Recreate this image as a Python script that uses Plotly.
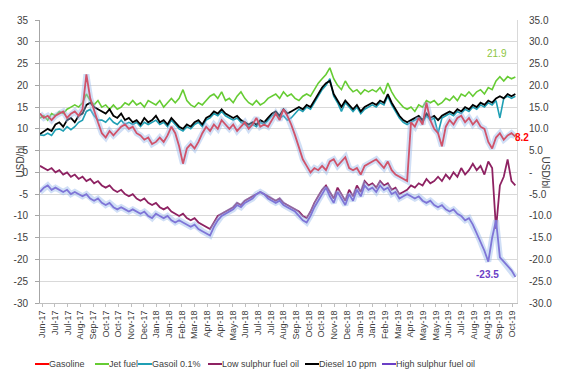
import pandas as pd
import plotly.graph_objects as go

# ---------------- data (weekly readings, USD/bl) ----------------
dates = pd.date_range("2017-06-06", periods=124, freq="7D")

gasoline = [13.5, 12.5, 13.0, 12.0, 13.0, 13.5, 14.0, 12.5, 13.5, 14.0,
            13.0, 14.5, 22.5, 17.0, 14.0, 11.5, 9.0, 8.0, 9.5, 8.5,
            9.5, 10.5, 11.0, 10.0, 10.5, 9.0, 8.5, 7.5, 8.0, 6.5,
            7.0, 8.0, 7.0, 8.5, 10.5, 9.0, 6.0, 2.0, 5.5, 6.5,
            5.5, 7.0, 9.0, 10.5, 9.5, 11.0, 10.0, 12.0, 11.0, 10.0,
            11.0, 9.5, 10.5, 11.5, 10.0, 11.0, 12.5, 10.5, 11.0, 10.5,
            12.0, 13.5, 12.0, 14.5, 13.0, 11.0, 8.5, 6.0, 3.0, 1.5,
            0.0, 1.0, 0.5, 1.5, 0.5, 2.5, 3.0, 1.5, 2.5, 3.5,
            1.0, 0.5, 1.0, -0.5, 1.5, 2.0, 2.5, 3.0, 2.0, 1.0,
            2.5, 0.5, -0.5, -1.0, -1.5, -2.0, 11.5, 10.5, 12.5, 11.0,
            16.0, 12.0, 10.0, 9.0, 6.0, 10.5, 12.0, 11.0, 12.5, 13.0,
            11.5, 12.5, 11.0, 12.0, 10.5, 10.0, 7.0, 5.5, 8.0, 9.0,
            7.5, 8.5, 9.0, 8.2]

jet_fuel = [12.5, 13.0, 12.0, 13.5, 13.0, 14.0, 13.5, 14.5, 15.0, 15.5,
            15.0, 16.0, 18.0, 16.5, 15.5, 16.5, 15.0, 15.5, 14.5, 15.5,
            14.5, 15.0, 16.0, 15.5, 16.5, 15.5, 16.0, 15.0, 16.5, 16.0,
            15.5, 16.5, 15.0, 16.0, 17.0, 16.0, 17.0, 19.0, 16.5, 15.5,
            15.0, 16.0, 15.5, 16.5, 17.5, 18.0, 17.0, 18.5, 16.5, 17.0,
            16.0, 17.5, 18.5, 17.0, 16.0, 15.5, 16.5, 15.5, 16.0, 17.0,
            17.5, 18.0, 17.0, 18.5, 17.5, 18.0, 17.0, 16.5, 17.5, 18.0,
            17.5, 19.0, 20.5, 21.5, 22.5, 24.0, 21.5, 20.0, 19.0, 21.0,
            19.5, 18.5, 19.0, 18.0, 19.0, 18.5, 19.0, 18.5, 19.5, 18.0,
            20.5, 18.5, 17.0, 16.0, 15.0, 14.5, 15.0, 14.0, 15.5, 15.0,
            16.5, 16.0, 16.5, 15.5, 16.0, 17.0, 16.5, 17.5, 16.5, 18.0,
            17.5, 18.5, 17.5, 18.5, 19.0, 18.0, 19.5, 19.0, 21.0, 22.0,
            21.0, 22.0, 21.5, 21.9]

gasoil = [8.6, 8.5, 9.0, 8.5, 9.8, 10.0, 9.5, 10.5, 9.8, 10.5,
          11.5, 12.0, 14.0, 14.5, 13.0, 12.0, 12.0, 11.5, 12.5, 11.5,
          11.0, 12.0, 11.0, 11.5, 11.0, 11.5, 10.5, 11.5, 11.0, 11.5,
          12.0, 11.0, 11.5, 10.5, 12.0, 11.0, 10.0, 9.5, 10.5, 10.0,
          11.0, 11.5, 10.5, 12.0, 12.5, 13.5, 13.0, 14.0, 13.0, 12.5,
          12.0, 12.5, 11.5, 11.0, 10.5, 11.0, 10.5, 11.5, 11.0, 12.0,
          13.0, 13.5, 12.5, 13.0, 12.0, 12.5, 13.5, 14.5, 14.0, 15.0,
          14.5, 16.0, 17.5, 19.0, 20.0, 21.5, 17.5, 16.0, 14.0, 16.0,
          15.0, 14.0, 15.0, 13.5, 14.5, 15.0, 15.5, 15.0, 16.0, 15.5,
          17.5, 15.5, 14.0, 12.5, 11.5, 11.0, 11.5, 12.0, 12.5, 11.5,
          13.0, 12.0, 12.5, 9.0, 12.5, 13.0, 13.5, 13.0, 14.0, 13.5,
          14.5, 14.0, 15.0, 14.5, 15.5, 15.0, 16.0, 15.5, 16.5, 12.5,
          17.0, 17.5, 17.0, 17.5]

lsfo = [1.5, 1.0, 0.5, 1.0, 0.0, 0.5, -0.5, 0.0, -1.0, -0.5,
        -1.5, -1.0, -2.0, -1.5, -2.5, -2.0, -3.0, -3.5, -3.0, -4.0,
        -4.5, -4.0, -5.0, -5.5, -5.0, -6.0, -6.5, -6.0, -7.0, -7.5,
        -7.0, -8.0, -8.5, -8.0, -9.0, -9.5, -10.0, -9.5, -10.5, -11.0,
        -10.5, -11.5, -12.0, -12.5, -13.0, -11.5, -10.0, -9.5, -9.0, -8.5,
        -8.0, -7.0, -7.5, -6.5, -6.0, -5.5, -5.0, -4.5, -5.0, -5.5,
        -6.0, -6.5, -6.0, -7.0, -7.5, -8.0, -8.5, -9.0, -10.0, -10.5,
        -9.0, -7.0, -5.5, -4.0, -3.0, -4.5, -6.0, -3.5, -5.0, -6.5,
        -4.0, -5.5, -3.0, -4.5, -2.0, -3.0, -2.5, -3.5, -2.0, -3.0,
        -2.5, -4.0, -3.5, -5.0, -4.5, -4.0, -3.0, -3.5, -2.5, -3.0,
        -1.5, -2.5, -2.0, -1.0, -2.0, -0.5, -1.5, 0.0, -1.0, 1.0,
        -0.5, 0.5, 2.0, 0.5, 1.5, -0.5, 2.5, 1.0, -13.0, -3.0,
        -1.0, 3.0, -2.0, -3.0]

diesel = [8.8, 9.5, 10.0, 9.5, 11.0, 11.5, 10.5, 12.0, 12.5, 11.5,
          13.0, 13.5, 15.5, 16.0, 15.0, 14.5, 14.0, 13.5, 14.5, 13.0,
          12.5, 13.5, 12.0, 12.5, 11.5, 12.0, 11.0, 12.5, 11.5, 12.0,
          13.0, 11.5, 12.0, 11.0, 12.5, 11.5, 10.5, 10.0, 11.0, 10.5,
          11.5, 12.0, 11.0, 12.5, 13.0, 14.0, 13.5, 14.5, 13.5, 13.0,
          12.5, 13.0, 12.0, 11.5, 11.0, 11.5, 11.0, 12.0, 11.5, 12.5,
          13.5, 14.0, 13.0, 14.5, 13.5, 14.0, 14.5, 15.0, 14.5, 15.5,
          15.0, 16.5, 18.0, 19.5, 20.5, 21.0, 18.0, 16.5, 15.0, 16.5,
          15.5, 14.5, 15.5, 14.0, 15.0, 15.5, 16.0, 15.5, 16.5, 16.0,
          18.0, 16.0, 14.5, 13.0, 12.0, 11.5, 12.0, 12.5, 13.0, 12.0,
          13.5, 12.5, 13.0, 12.0, 13.0, 13.5, 14.0, 13.5, 14.5, 14.0,
          15.0, 14.5, 15.5, 15.0, 16.0, 15.5, 16.5, 16.0, 17.0, 17.5,
          17.0, 18.0, 17.5, 18.0]

hsfo = [-4.5, -3.5, -3.0, -4.0, -3.5, -4.0, -4.5, -4.0, -5.0, -4.5,
        -5.0, -5.5, -5.0, -6.0, -6.5, -6.0, -7.0, -7.5, -7.0, -8.0,
        -8.5, -8.0, -8.5, -9.0, -8.5, -9.0, -9.5, -9.0, -10.0, -10.5,
        -9.5, -10.0, -10.5, -10.0, -11.0, -11.5, -11.0, -11.5, -12.0, -12.5,
        -12.0, -13.0, -13.5, -14.0, -14.5, -12.5, -11.0, -10.0, -9.5, -9.0,
        -8.5, -7.5, -8.0, -7.0, -6.5, -6.0, -5.0, -4.5, -5.0, -6.0,
        -6.5, -7.0, -6.5, -7.5, -8.0, -8.5, -9.0, -10.0, -11.0, -11.5,
        -10.0, -8.0, -6.5, -5.0, -3.5, -5.5, -7.0, -4.5, -6.0, -7.5,
        -5.0, -6.5, -4.0, -5.5, -3.0, -4.0, -3.5, -4.5, -3.0, -4.0,
        -3.5, -5.0, -4.5, -6.0, -5.5, -5.0, -5.5, -6.0, -5.5, -6.5,
        -7.0, -6.5, -7.5, -8.0, -7.5, -8.5, -9.0, -8.5, -9.5, -10.0,
        -11.0, -10.5, -12.0, -14.0, -16.0, -18.0, -20.5, -15.0, -11.0, -19.5,
        -20.5, -21.5, -22.5, -24.0]

tick_labels = ["Jun-17", "Jul-17", "Jul-17", "Aug-17", "Sep-17", "Oct-17", "Oct-17",
               "Nov-17", "Dec-17", "Jan-18", "Jan-18", "Feb-18", "Mar-18", "Apr-18",
               "Apr-18", "May-18", "Jun-18", "Jul-18", "Jul-18", "Aug-18", "Sep-18",
               "Oct-18", "Oct-18", "Nov-18", "Dec-18", "Jan-19", "Jan-19", "Feb-19",
               "Mar-19", "Apr-19", "May-19", "May-19", "Jun-19", "Jul-19", "Aug-19",
               "Aug-19", "Sep-19", "Oct-19"]
tick_dates = pd.date_range("2017-06-10", periods=len(tick_labels), freq="23D")

y_ticks = list(range(-30, 40, 5))
y_ticks_right = ["-" if v == 0 else f"{v:.1f}" for v in y_ticks]

series_names = ["Gasoline", "Jet fuel", "Gasoil 0.1%", "Low sulphur fuel oil",
                "Diesel 10 ppm", "High sulphur fuel oil"]
series_values = [gasoline, jet_fuel, gasoil, lsfo, diesel, hsfo]
series_colors = ["#FF0000", "#66CC33", "#1F9FB4", "#8E2262", "#000000", "#6B3FC6"]
series_widths = [1.8, 1.6, 1.6, 1.8, 1.8, 1.8]

# ---------------- figure ----------------
fig = go.Figure()
GLOW = "rgba(150,185,235,0.45)"

for idx in (5, 0):
    fig.add_trace(go.Scatter(x=dates, y=series_values[idx], mode="lines",
                             line=dict(color=GLOW, width=6), yaxis="y2",
                             hoverinfo="skip", showlegend=False))

draw_order = [3, 5, 1, 2, 4, 0]
for idx in draw_order:
    fig.add_trace(go.Scatter(x=dates, y=series_values[idx], mode="lines",
                             name=series_names[idx],
                             line=dict(color=series_colors[idx], width=series_widths[idx]),
                             showlegend=False))

FONT = "Liberation Sans, Arial, sans-serif"
TXT = "#404040"
OFF = 8                      # page body margin offset
W, H = 580, 386
PL, PT, PW, PH = 40, 20, 477, 283   # target plot box on screen
L, T = PL - OFF, PT - OFF
R, B = W - L - PW, H - T - PH

def sx(px):
    return (px - PL) / PW

def sy(py):
    return (PT + PH - py) / PH

annotations = []
shapes = []

annotations.append(dict(x=sx(509), xref="paper", y=27.2, yref="y",
                        text="21.9", showarrow=False, font=dict(size=10, color="#8DC63F", family=FONT)))
annotations.append(dict(x=sx(531), xref="paper", y=8.1, yref="y",
                        text="<b>8.2</b>", showarrow=False, font=dict(size=10, color="#FF0000", family=FONT)))
annotations.append(dict(x=sx(501), xref="paper", y=-23.5, yref="y",
                        text="<b>-23.5</b>", showarrow=False, font=dict(size=10, color="#6B3FC6", family=FONT)))

annotations.append(dict(x=sx(12), xref="paper", y=sy(162), yref="paper",
                        text="USD/bl", textangle=-90, showarrow=False,
                        font=dict(size=10, color=TXT, family=FONT)))
annotations.append(dict(x=sx(553), xref="paper", y=sy(172), yref="paper",
                        text="USD/bl", textangle=90, showarrow=False,
                        font=dict(size=10, color=TXT, family=FONT)))

legend_px = [35, 95, 138, 208, 305, 382]
ly = sy(364)
for name, color, px in zip(series_names, series_colors, legend_px):
    shapes.append(dict(type="line", xref="paper", yref="paper",
                       x0=sx(px), x1=sx(px + 14), y0=ly, y1=ly,
                       line=dict(color=color, width=2)))
    annotations.append(dict(x=sx(px + 13), xref="paper", y=ly, yref="paper",
                            xanchor="left", yanchor="middle", text=name, showarrow=False,
                            borderpad=0, font=dict(size=9, color=TXT, family=FONT)))

fig.update_layout(
    width=W, height=H,
    margin=dict(l=L, r=R, t=T, b=B, autoexpand=False),
    paper_bgcolor="white", plot_bgcolor="white",
    showlegend=False,
    font=dict(family=FONT, size=10, color=TXT),
    xaxis=dict(type="date", range=["2017-06-06", "2019-10-18"],
               tickmode="array", tickvals=list(tick_dates), ticktext=tick_labels,
               tickangle=-90, tickfont=dict(size=9, color=TXT),
               showgrid=False, showline=True, linecolor="#BFBFBF", linewidth=1,
               ticks="outside", ticklen=3, tickcolor="#BFBFBF", zeroline=False),
    yaxis=dict(range=[-30, 35], tickmode="array", tickvals=y_ticks,
               ticktext=[str(v) for v in y_ticks], tickfont=dict(size=10, color=TXT),
               showgrid=True, gridcolor="#D9D9D9", gridwidth=1,
               showline=True, linecolor="#A6A6A6", linewidth=1,
               ticks="outside", ticklen=4, tickcolor="#A6A6A6",
               zeroline=False, ticklabelstandoff=5),
    yaxis2=dict(range=[-30, 35], overlaying="y", side="right",
                tickmode="array", tickvals=y_ticks, ticktext=y_ticks_right,
                tickfont=dict(size=10, color=TXT), showgrid=False,
                showline=True, linecolor="#D9D9D9", linewidth=1,
                ticks="", zeroline=False, ticklabelstandoff=9),
    annotations=annotations, shapes=shapes,
)

fig.write_html("out.html")
